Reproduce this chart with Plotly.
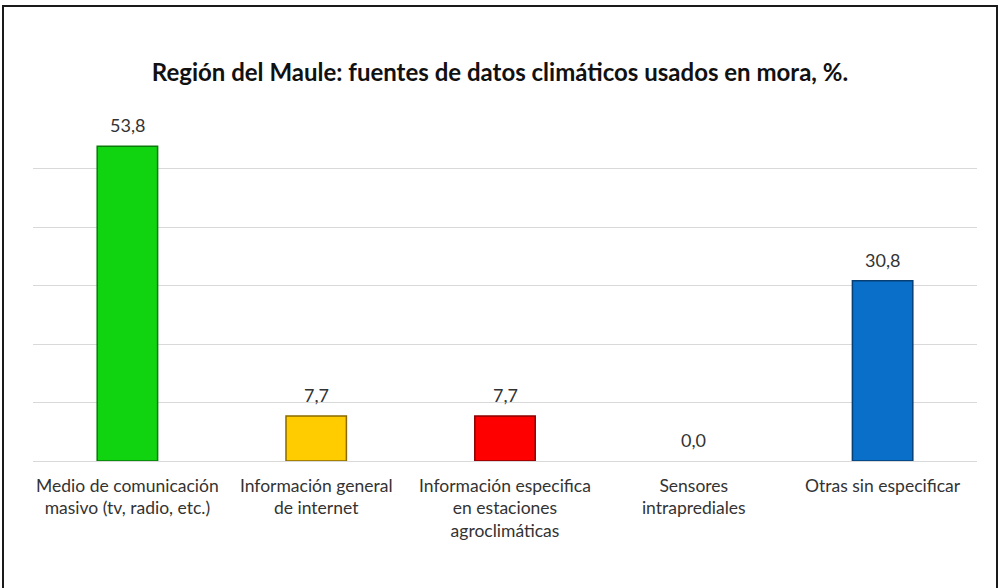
import plotly.graph_objects as go

categories = [
    "Medio de comunicación<br>masivo (tv, radio, etc.)",
    "Información general<br>de internet",
    "Información especifica<br>en estaciones<br>agroclimáticas",
    "Sensores<br>intraprediales",
    "Otras sin especificar",
]
values = [53.8, 7.7, 7.7, 0.0, 30.8]
bar_colors = ["#10D410", "#FFCC00", "#FF0000", "#7F7F7F", "#0A6FC8"]
edge_colors = ["#0A7A0A", "#8A6A00", "#8A0000", "rgba(0,0,0,0)", "#063F75"]

title = "Región del Maule: fuentes de datos climáticos usados en mora, %."

fig = go.Figure()
fig.add_trace(go.Bar(
    x=categories,
    y=values,
    marker=dict(color=bar_colors, line=dict(color=edge_colors, width=1.5)),
    width=0.32,
    hoverinfo="skip",
))

# value labels above each bar
for cat, v in zip(categories, values):
    fig.add_annotation(
        x=cat, y=v, text=f"{v:.1f}".replace(".", ","),
        showarrow=False, yanchor="bottom", yshift=8,
        font=dict(family="Lato", size=18, color="#333333"),
    )

fig.update_layout(
    width=1000, height=588,
    margin=dict(l=33, r=23, t=110, b=127),
    paper_bgcolor="white", plot_bgcolor="white",
    showlegend=False,
    separators=",.",
    title=dict(
        text=f"<b>{title}</b>",
        x=0.5, xanchor="center", y=1 - 73 / 588, yanchor="middle",
        font=dict(family="Lato", size=24, color="#111111"),
    ),
    xaxis=dict(
        showgrid=False, showline=False, ticks="",
        ticklabelstandoff=12,
        tickfont=dict(family="Lato", size=17.5, color="#333333"),
    ),
    yaxis=dict(
        range=[0, 60], tickvals=[0, 10, 20, 30, 40, 50],
        showticklabels=False, showgrid=True, gridcolor="#D9D9D9", gridwidth=1,
        zeroline=True, zerolinecolor="#D9D9D9", zerolinewidth=1, showline=False,
    ),
    shapes=[dict(
        type="rect", xref="paper", yref="paper",
        x0=-30 / 944, x1=1 + 20 / 944,
        y0=-140 / 351, y1=1 + 104 / 351,
        line=dict(color="#1A1A1A", width=2), fillcolor="rgba(0,0,0,0)",
    )],
)

fig.write_html("out.html")
